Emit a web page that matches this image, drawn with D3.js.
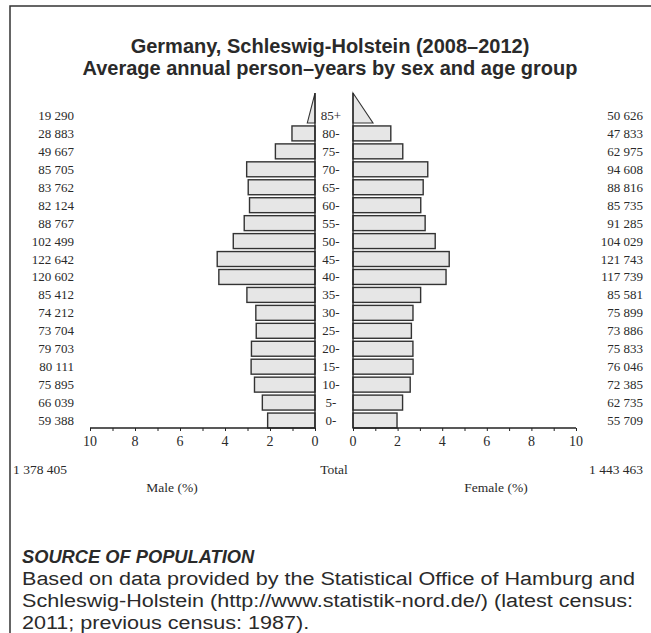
<!DOCTYPE html>
<html><head><meta charset="utf-8">
<script src="https://cdn.jsdelivr.net/npm/d3@7"></script>
<style>body{margin:0;background:#fff}svg{display:block}</style>
</head><body>
<script>
const ageGroups = ["85+","80-","75-","70-","65-","60-","55-","50-","45-","40-","35-","30-","25-","20-","15-","10-","5-","0-"];
const maleCounts = [19290,28883,49667,85705,83762,82124,88767,102499,122642,120602,85412,74212,73704,79703,80111,75895,66039,59388];
const femaleCounts = [50626,47833,62975,94608,88816,85735,91285,104029,121743,117739,85581,75899,73886,75833,76046,72385,62735,55709];
const maleTotal = 1378405, femaleTotal = 1443463;
const tickValues = [0,2,4,6,8,10];
const titleLines = ["Germany, Schleswig-Holstein (2008\u20132012)","Average annual person\u2013years by sex and age group"];
const sourceHead = "SOURCE OF POPULATION";
const sourceLines = ["Based on data provided by the Statistical Office of Hamburg and","Schleswig-Holstein (http://www.statistik-nord.de/) (latest census:","2011; previous census: 1987)."];

(function(){
const W=651,H=633;
const svg=d3.select("body").append("svg").attr("width",W).attr("height",H);
const serif="'Liberation Serif','Times New Roman',serif";
const sans="'Liberation Sans',Arial,Helvetica,sans-serif";
const fmt = n => d3.format(",")(n).replace(/,/g," ");
const grand = maleTotal+femaleTotal;
const pct = n => n/grand*100;
const ink="#2a2a2a";

svg.append("path").attr("d",`M10,${H} V6 H${W}`).attr("fill","none").attr("stroke","#333").attr("stroke-width",1.5);

svg.selectAll("text.title").data(titleLines).join("text").attr("class","title")
  .attr("x",330).attr("y",(d,i)=>53+i*21.5).attr("text-anchor","middle")
  .attr("font-family",sans).attr("font-weight","bold").attr("font-size",20).attr("fill",ink).text(d=>d);

const xM=d3.scaleLinear().domain([0,10]).range([315,90]);
const xF=d3.scaleLinear().domain([0,10]).range([353,576]);
const y=d3.scaleBand().domain(ageGroups).range([106.5,429.5]).paddingInner(0.167).paddingOuter(0.0835);
const bh=y.bandwidth();

const barFill="#e6e6e6", barStroke="#333";
const rows=ageGroups.map((a,i)=>({a,m:maleCounts[i],f:femaleCounts[i]}));
const rect=rows.filter(r=>r.a!=="85+");
svg.append("g").selectAll("rect").data(rect).join("rect")
  .attr("x",d=>xM(pct(d.m))).attr("y",d=>y(d.a)).attr("width",d=>xM(0)-xM(pct(d.m))).attr("height",bh)
  .attr("fill",barFill).attr("stroke",barStroke).attr("stroke-width",1.4);
svg.append("g").selectAll("rect").data(rect).join("rect")
  .attr("x",xF(0)).attr("y",d=>y(d.a)).attr("width",d=>xF(pct(d.f))-xF(0)).attr("height",bh)
  .attr("fill",barFill).attr("stroke",barStroke).attr("stroke-width",1.4);
const oldest=rows[0];
const by=y(oldest.a)+bh, ay=by-2*bh;
svg.append("path").attr("d",`M${xM(0)},${ay} L${xM(pct(oldest.m)/2)},${by} L${xM(0)},${by} Z`)
  .attr("fill",barFill).attr("stroke",barStroke).attr("stroke-width",1.1);
svg.append("path").attr("d",`M${xF(0)},${ay} L${xF(pct(oldest.f)/2)},${by} L${xF(0)},${by} Z`)
  .attr("fill",barFill).attr("stroke",barStroke).attr("stroke-width",1.1);

[xM(0),xF(0)].forEach(x=>svg.append("line").attr("x1",x).attr("x2",x).attr("y1",ay).attr("y2",428).attr("stroke","#222").attr("stroke-width",1.3));

const lab=(g)=>g.attr("font-family",serif).attr("font-size",13).attr("fill",ink).attr("dominant-baseline","central");
lab(svg.append("g").selectAll("text").data(rows).join("text").attr("x",74).attr("y",d=>y(d.a)+bh/2).attr("text-anchor","end").text(d=>fmt(d.m)));
lab(svg.append("g").selectAll("text").data(rows).join("text").attr("x",643).attr("y",d=>y(d.a)+bh/2).attr("text-anchor","end").text(d=>fmt(d.f)));
lab(svg.append("g").selectAll("text").data(rows).join("text").attr("x",331).attr("y",d=>y(d.a)+bh/2).attr("text-anchor","middle").text(d=>d.a));

function axis(scale){
  const g=svg.append("g").attr("transform","translate(0,428)");
  g.call(d3.axisBottom(scale).tickValues(d3.range(0,11)).tickSize(3).tickFormat(""));
  g.call(gg=>gg.select(".domain").attr("stroke","#222").attr("stroke-width",1.3).attr("d",`M${scale(0)},0H${scale(10)}`));
  g.selectAll(".tick line").attr("stroke","#222");
  g.selectAll("text.tl").data(tickValues).join("text").attr("class","tl")
   .attr("x",d=>scale(d)).attr("y",18).attr("text-anchor","middle").attr("font-family",serif).attr("font-size",14).attr("fill",ink).text(d=>d);
}
axis(xM); axis(xF);

const t=(x,yy,s,anchor)=>svg.append("text").attr("x",x).attr("y",yy).attr("text-anchor",anchor).attr("font-family",serif).attr("font-size",13.5).attr("fill",ink).text(s);
t(13,474,fmt(maleTotal),"start");
t(334,474,"Total","middle");
t(643,474,fmt(femaleTotal),"end");
t(172,492,"Male (%)","middle");
t(496,492,"Female (%)","middle");

svg.append("text").attr("x",22).attr("y",563).attr("font-family",sans).attr("font-weight","bold").attr("font-style","italic").attr("font-size",18.3).attr("fill",ink).text(sourceHead);
svg.append("g").attr("transform","translate(22,0) scale(1.135,1)")
  .selectAll("text.src").data(sourceLines).join("text").attr("class","src")
  .attr("x",0).attr("y",(d,i)=>585+i*22).attr("font-family",sans).attr("font-size",19).attr("fill",ink).text(d=>d);
})();
</script>
</body></html>
